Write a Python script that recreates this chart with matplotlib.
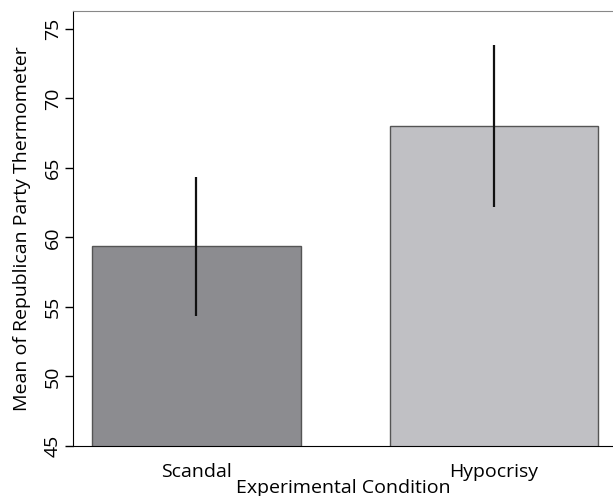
import matplotlib
matplotlib.use("Agg")
import matplotlib.pyplot as plt
import numpy as np

# condition means with confidence interval bounds
conditions = ["Scandal", "Hypocrisy"]
means = [59.35, 68.0]
ci_low = [54.35, 62.2]
ci_high = [64.35, 73.85]
bar_colors = ["#8c8c90", "#c0c0c4"]

plt.rcParams["font.family"] = ["Open Sans", "DejaVu Sans"]

fig = plt.figure(figsize=(6.13, 4.96), dpi=100)
ax = fig.add_axes([0.119, 0.101, 0.881, 0.877])

x = np.arange(len(conditions))
ax.bar(x, means, width=0.7, bottom=0, color=bar_colors,
       edgecolor="#555555", linewidth=1.0, zorder=2)
ax.vlines(x, ci_low, ci_high, color="#111111", linewidth=1.6, zorder=3)

ax.set_xlim(-0.415, 1.4)
ax.set_ylim(45, 76.3)
ax.set_yticks([45, 50, 55, 60, 65, 70, 75])
ax.set_xticks(x)
ax.set_xticklabels(conditions, fontsize=14)
ax.tick_params(axis="x", length=0, pad=12)
ax.tick_params(axis="y", length=6, width=1.0, labelsize=14, pad=2)
plt.setp(ax.get_yticklabels(), rotation=90, va="center")

ax.spines["top"].set_color("#888888")
ax.spines["right"].set_visible(False)
ax.spines["left"].set_color("black")
ax.spines["bottom"].set_color("black")

ax.set_xlabel("Experimental Condition", fontsize=14, labelpad=-1)
ax.set_ylabel("Mean of Republican Party Thermometer", fontsize=14, labelpad=9)

fig.savefig("out.png", dpi=100)
